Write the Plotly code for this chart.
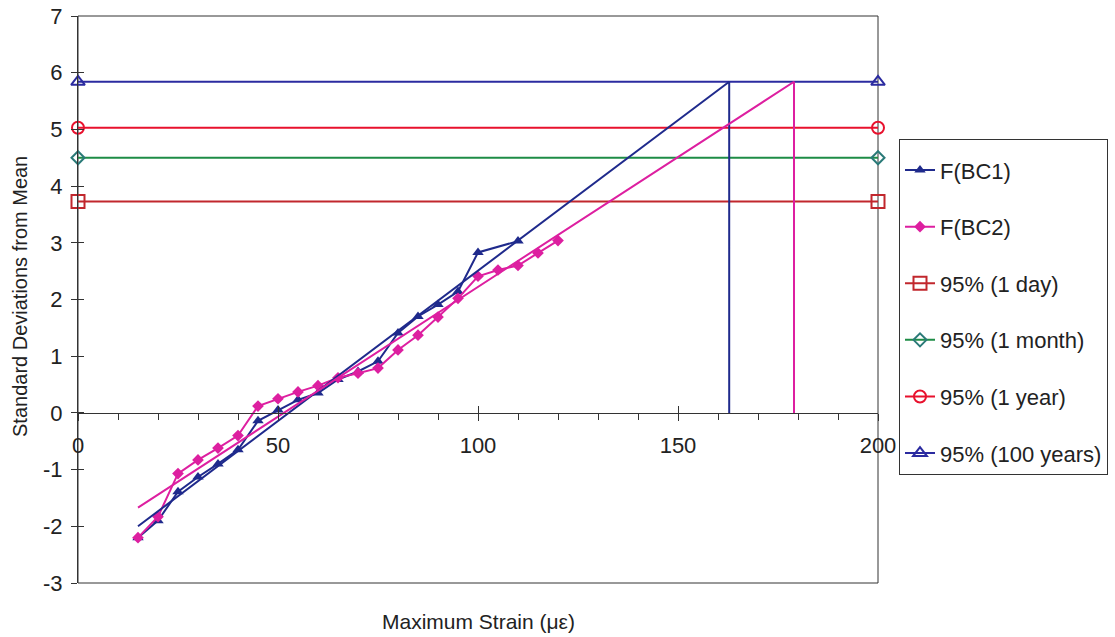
import plotly.graph_objects as go

# ---- data ----
bc1_x = [15, 20, 25, 30, 35, 40, 45, 50, 55, 60, 65, 70, 75, 80, 85, 90, 95, 100, 110]
bc1_y = [-2.2, -1.9, -1.39, -1.13, -0.9, -0.65, -0.14, 0.05, 0.23, 0.35, 0.59, 0.73, 0.91, 1.41, 1.70, 1.91, 2.14, 2.83, 3.03]

bc2_x = [15, 20, 25, 30, 35, 40, 45, 50, 55, 60, 65, 70, 75, 80, 85, 90, 95, 100, 105, 110, 115, 120]
bc2_y = [-2.2, -1.83, -1.07, -0.83, -0.62, -0.40, 0.12, 0.25, 0.37, 0.48, 0.62, 0.70, 0.79, 1.11, 1.37, 1.69, 2.02, 2.41, 2.52, 2.60, 2.82, 3.04]

# trend lines extended to the 100-year level, then dropped to the axis
trend1_x = [15, 162.8, 162.8]
trend1_y = [-2.0, 5.84, 0]
trend2_x = [15, 179, 179]
trend2_y = [-1.67, 5.84, 0]

level_x = [0, 200]
level_names = ["95% (1 day)", "95% (1 month)", "95% (1 year)", "95% (100 years)"]
level_values = [3.73, 4.50, 5.03, 5.84]
level_colors = ["#C1272D", "#1E8C46", "#E8112D", "#2B2BA0"]
level_marker_colors = ["#C1272D", "#2A7A78", "#E8112D", "#2B2BA0"]
level_symbols = ["square-open", "diamond-open", "circle-open", "triangle-up-open"]
level_sizes = [13, 10, 12, 12]

x_ticks = [0, 50, 100, 150, 200]
y_ticks = [-3, -2, -1, 0, 1, 2, 3, 4, 5, 6, 7]
y_tick_text = ["-3", "-2", "-1", "0", "1", "2", "3", "4", "5", "6", "7"]

NAVY = "#1F2A8C"
MAGENTA = "#DD1FA0"
FONT = "Liberation Sans, Arial, sans-serif"

fig = go.Figure()

fig.add_trace(go.Scatter(x=bc1_x, y=bc1_y, mode="lines+markers", name="F(BC1)",
                         line=dict(color=NAVY, width=2),
                         marker=dict(symbol="triangle-up", size=10, color=NAVY),
                         legendgroup="g1", cliponaxis=False))
fig.add_trace(go.Scatter(x=bc2_x, y=bc2_y, mode="lines+markers", name="F(BC2)",
                         line=dict(color=MAGENTA, width=2),
                         marker=dict(symbol="diamond", size=9, color=MAGENTA),
                         legendgroup="g2", cliponaxis=False))
for i in range(4):
    fig.add_trace(go.Scatter(x=level_x, y=[level_values[i]] * 2, mode="lines+markers",
                             name=level_names[i],
                             line=dict(color=level_colors[i], width=2),
                             marker=dict(symbol=level_symbols[i], size=level_sizes[i],
                                         color=level_marker_colors[i],
                                         line=dict(width=2, color=level_marker_colors[i])),
                             legendgroup="l%d" % i, cliponaxis=False))
fig.add_trace(go.Scatter(x=trend1_x, y=trend1_y, mode="lines", showlegend=False,
                         line=dict(color=NAVY, width=2), hoverinfo="skip"))
fig.add_trace(go.Scatter(x=trend2_x, y=trend2_y, mode="lines", showlegend=False,
                         line=dict(color=MAGENTA, width=2), hoverinfo="skip"))

axis_pos = (0 - y_ticks[0]) / (y_ticks[-1] - y_ticks[0])

fig.update_layout(
    width=1115, height=637,
    margin=dict(l=78, r=237, t=16, b=54, autoexpand=False),
    paper_bgcolor="white", plot_bgcolor="white",
    font=dict(family=FONT, size=20, color="#222"),
    showlegend=True,
    legend=dict(x=(899 - 78) / 800, y=(583.3 - 139) / 567.6, xanchor="left", yanchor="top",
                bordercolor="#333", borderwidth=1, bgcolor="white",
                font=dict(family=FONT, size=22, color="#222"),
                title=dict(text="\u00a0", font=dict(size=7)),
                tracegroupgap=25, traceorder="grouped"),
    xaxis=dict(range=[0, 200], anchor="free", position=axis_pos, automargin=False,
               tickvals=x_ticks, ticktext=[str(v) for v in x_ticks],
               ticks="outside", ticklen=7, tickcolor="#333", tickwidth=1,
               minor=dict(dtick=10, ticks="outside", ticklen=6, tickcolor="#333", tickwidth=1),
               showline=True, linecolor="#333", linewidth=1, showgrid=False, zeroline=False,
               ticklabelstandoff=6, tickfont=dict(size=22)),
    xaxis2=dict(range=[0, 200], anchor="free", position=axis_pos, overlaying="x", automargin=False,
                tickvals=x_ticks, ticks="inside", ticklen=7, tickcolor="#333",
                showticklabels=False, showline=False, showgrid=False, zeroline=False),
    yaxis=dict(range=[-3, 7], tickvals=y_ticks, ticktext=y_tick_text, automargin=False,
               ticks="outside", ticklen=6, tickcolor="#333",
               showline=True, linecolor="#333", linewidth=1, showgrid=False, zeroline=False,
               ticklabelstandoff=4, tickfont=dict(size=22)),
    yaxis2=dict(range=[-3, 7], overlaying="y", side="left", tickvals=y_ticks, ticks="inside",
                automargin=False,
                ticklen=6, tickcolor="#333", showticklabels=False, showline=False,
                showgrid=False, zeroline=False),
    shapes=[dict(type="rect", xref="paper", yref="paper", x0=0, x1=1, y0=0, y1=1,
                 line=dict(color="#333", width=1), layer="below")],
    annotations=[
        dict(text="Maximum Strain (\u03bc\u03b5)", xref="paper", yref="paper",
             x=0.5, y=(583.3 - 622) / 567.6, xanchor="center", yanchor="middle",
             showarrow=False, font=dict(family=FONT, size=21, color="#222")),
        dict(text="Standard Deviations from Mean", xref="paper", yref="paper",
             x=(20 - 78) / 800, y=(583.3 - 297) / 567.6, xanchor="center", yanchor="middle",
             textangle=-90, showarrow=False, font=dict(family=FONT, size=20, color="#222")),
    ],
)

# dummy trace to activate overlay axes
fig.add_trace(go.Scatter(x=[None], y=[None], xaxis="x2", yaxis="y2", showlegend=False))

fig.write_html("out.html")
